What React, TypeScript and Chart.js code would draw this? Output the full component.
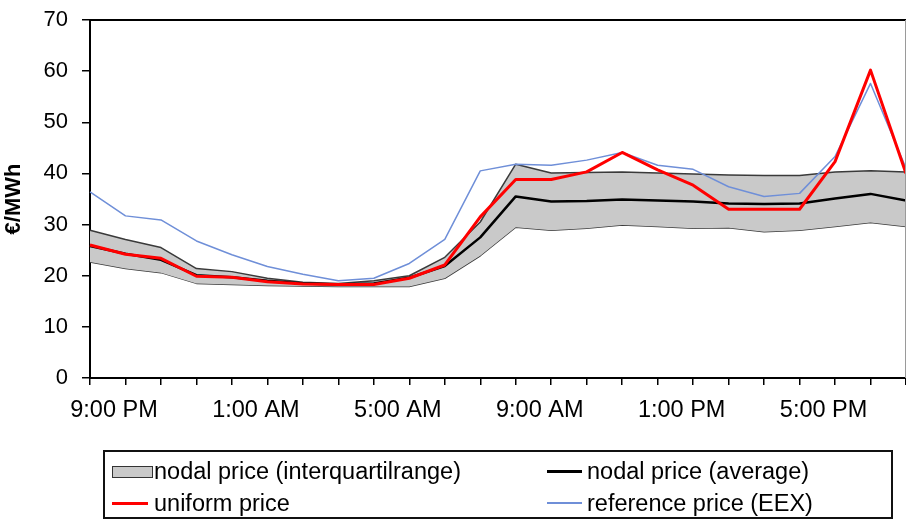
import React, { useEffect, useRef } from 'react';
import { Chart, registerables } from 'chart.js';

Chart.register(...registerables);

const hours = [
  '9:00 PM', '10:00 PM', '11:00 PM', '12:00 AM', '1:00 AM', '2:00 AM', '3:00 AM', '4:00 AM',
  '5:00 AM', '6:00 AM', '7:00 AM', '8:00 AM', '9:00 AM', '10:00 AM', '11:00 AM', '12:00 PM',
  '1:00 PM', '2:00 PM', '3:00 PM', '4:00 PM', '5:00 PM', '6:00 PM', '7:00 PM', '8:00 PM',
];
const shownTickLabels = ['9:00 PM', '1:00 AM', '5:00 AM', '9:00 AM', '1:00 PM', '5:00 PM'];

const nodalLowerQuartile = [22.7, 21.4, 20.6, 18.5, 18.3, 18.1, 18.0, 17.9, 17.9, 17.9, 19.5, 23.9, 29.5, 28.9, 29.3, 29.9, 29.6, 29.3, 29.4, 28.6, 28.9, 29.6, 30.4, 29.6];
const nodalUpperQuartile = [28.9, 27.1, 25.5, 21.4, 20.8, 19.5, 18.7, 18.5, 19.0, 20.0, 23.6, 30.5, 41.8, 40.1, 40.2, 40.3, 40.1, 39.9, 39.7, 39.6, 39.6, 40.3, 40.5, 40.3];
const nodalAverage = [25.8, 24.3, 23.1, 20.1, 19.7, 19.0, 18.5, 18.3, 18.5, 19.6, 21.9, 27.5, 35.5, 34.5, 34.6, 34.9, 34.7, 34.5, 34.1, 34.0, 34.1, 35.1, 36.0, 34.7];
const uniformPrice = [26.0, 24.2, 23.4, 19.9, 19.7, 18.8, 18.4, 18.3, 18.3, 19.5, 22.1, 31.5, 38.8, 38.8, 40.3, 44.1, 40.7, 37.7, 33.0, 33.0, 33.0, 42.3, 60.2, 40.0];
const referencePrice = [36.4, 31.7, 30.9, 26.8, 24.1, 21.8, 20.3, 19.0, 19.5, 22.4, 27.1, 40.5, 41.8, 41.6, 42.6, 44.1, 41.6, 40.8, 37.4, 35.5, 36.1, 43.3, 57.6, 41.0];

const legendLabels = [
  'nodal price (interquartilrange)',
  'nodal price (average)',
  'uniform price',
  'reference price (EEX)',
];

const FONT = '"Liberation Sans", Arial, sans-serif';

const plotBorder = {
  id: 'plotBorder',
  afterDraw(chart: any) {
    const { ctx, chartArea } = chart;
    ctx.save();
    ctx.strokeStyle = '#000';
    ctx.lineWidth = 2;
    ctx.beginPath();
    ctx.moveTo(chartArea.left, chartArea.top);
    ctx.lineTo(chartArea.right, chartArea.top);
    ctx.stroke();
    ctx.strokeStyle = '#9a9a9a';
    ctx.lineWidth = 1;
    ctx.beginPath();
    ctx.moveTo(chartArea.right - 0.5, chartArea.top);
    ctx.lineTo(chartArea.right - 0.5, chartArea.bottom);
    ctx.stroke();
    ctx.restore();
  },
};

export default function App() {
  const canvasRef = useRef<HTMLCanvasElement | null>(null);

  useEffect(() => {
    document.body.style.margin = '0';
    const canvas = canvasRef.current;
    if (!canvas) return;
    const chart = new Chart(canvas, {
      type: 'line',
      data: {
        labels: hours,
        datasets: [
          {
            label: 'lower quartile',
            data: nodalLowerQuartile,
            borderColor: '#3a3a3a',
            borderWidth: 1.5,
            pointRadius: 0,
            fill: false,
            order: 4,
          },
          {
            label: legendLabels[0],
            data: nodalUpperQuartile,
            borderColor: '#3a3a3a',
            borderWidth: 1.5,
            backgroundColor: '#c9c9c9',
            pointRadius: 0,
            fill: 0,
            order: 3,
          },
          {
            label: legendLabels[1],
            data: nodalAverage,
            borderColor: '#000',
            borderWidth: 2.5,
            pointRadius: 0,
            fill: false,
            order: 2,
          },
          {
            label: legendLabels[3],
            data: referencePrice,
            borderColor: '#6f8fd8',
            borderWidth: 1.5,
            pointRadius: 0,
            fill: false,
            order: 1,
          },
          {
            label: legendLabels[2],
            data: uniformPrice,
            borderColor: '#ff0000',
            borderWidth: 3,
            pointRadius: 0,
            fill: false,
            order: 0,
          },
        ],
      },
      options: {
        responsive: false,
        animation: false,
        devicePixelRatio: 1,
        layout: { padding: { top: 20, right: 0, bottom: 0, left: 0 } },
        plugins: {
          legend: { display: false },
          tooltip: { enabled: false },
        },
        elements: { line: { tension: 0, borderJoinStyle: 'round' } },
        scales: {
          x: {
            type: 'category',
            offset: false,
            grid: {
              display: true,
              drawOnChartArea: false,
              drawTicks: true,
              tickLength: 7,
              color: '#000',
              lineWidth: 1.5,
            },
            border: { display: true, color: '#000', width: 2 },
            ticks: {
              autoSkip: false,
              maxRotation: 0,
              minRotation: 0,
              labelOffset: 24,
              padding: 11,
              color: '#000',
              font: { family: FONT, size: 23.5 },
              callback: (_v: any, i: number) =>
                shownTickLabels.includes(hours[i]) ? hours[i] : '',
            },
            afterFit: (s: any) => {
              s.height = 142;
              s.paddingLeft = 0;
              s.paddingRight = 0;
            },
          },
          y: {
            min: 0,
            max: 70,
            grid: {
              display: true,
              drawOnChartArea: false,
              drawTicks: true,
              tickLength: 8,
              color: '#000',
              lineWidth: 1.5,
            },
            border: { display: true, color: '#000', width: 2 },
            ticks: {
              stepSize: 10,
              padding: 14,
              color: '#000',
              font: { family: FONT, size: 22 },
            },
            title: {
              display: true,
              text: '€/MWh',
              color: '#000',
              font: { family: FONT, size: 22, weight: 'bold' },
              padding: { top: 1, bottom: 0 },
            },
            afterFit: (s: any) => {
              s.width = 90;
              s.paddingTop = 0;
              s.paddingBottom = 0;
            },
          },
        },
      },
      plugins: [plotBorder],
    });
    return () => chart.destroy();
  }, []);

  const textStyle: React.CSSProperties = {
    position: 'absolute',
    fontFamily: FONT,
    fontSize: '23.5px',
    lineHeight: '28px',
    color: '#000',
    whiteSpace: 'nowrap',
  };

  return (
    <div style={{ position: 'absolute', left: 0, top: 0, width: 906, height: 520, background: '#fff', overflow: 'hidden' }}>
      <canvas ref={canvasRef} width={906} height={520} style={{ position: 'absolute', left: 0, top: 0, width: 906, height: 520 }} />
      <div style={{ position: 'absolute', left: 103, top: 450, width: 790, height: 69, border: '2px solid #111', boxSizing: 'border-box' }} />
      <div style={{ position: 'absolute', left: 112, top: 466, width: 41, height: 12, background: '#c9c9c9', border: '1.5px solid #333', boxSizing: 'border-box' }} />
      <div style={{ ...textStyle, left: 154, top: 457 }}>{legendLabels[0]}</div>
      <div style={{ position: 'absolute', left: 112, top: 502, width: 36, height: 2.5, background: '#ff0000' }} />
      <div style={{ ...textStyle, left: 154, top: 489 }}>{legendLabels[2]}</div>
      <div style={{ position: 'absolute', left: 547, top: 470, width: 35, height: 3, background: '#000' }} />
      <div style={{ ...textStyle, left: 587, top: 457 }}>{legendLabels[1]}</div>
      <div style={{ position: 'absolute', left: 547, top: 502, width: 35, height: 2, background: '#6f8fd8' }} />
      <div style={{ ...textStyle, left: 587, top: 489 }}>{legendLabels[3]}</div>
    </div>
  );
}
